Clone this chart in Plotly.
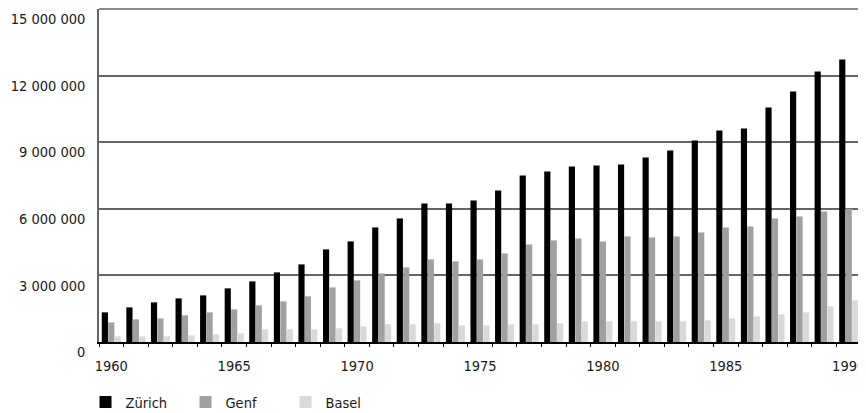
import plotly.graph_objects as go

years = list(range(1960, 1991))
zuerich = [1.335, 1.56, 1.785, 1.965, 2.1, 2.415, 2.73, 3.135, 3.495, 4.17,
           4.53, 5.16, 5.565, 6.24, 6.24, 6.375, 6.825, 7.5, 7.68, 7.905,
           7.95, 7.995, 8.31, 8.625, 9.075, 9.525, 9.615, 10.56, 11.28, 12.18, 12.72]
genf = [0.885, 1.02, 1.065, 1.2, 1.335, 1.47, 1.65, 1.83, 2.055, 2.46,
        2.775, 3.09, 3.36, 3.72, 3.63, 3.72, 3.99, 4.395, 4.575, 4.665,
        4.53, 4.755, 4.71, 4.755, 4.935, 5.16, 5.205, 5.565, 5.655, 5.88, 6.0]
basel = [0.255, 0.255, 0.255, 0.3, 0.345, 0.39, 0.57, 0.57, 0.57, 0.615,
         0.705, 0.795, 0.795, 0.84, 0.75, 0.75, 0.795, 0.795, 0.84, 0.93,
         0.93, 0.93, 0.93, 0.93, 0.975, 1.065, 1.155, 1.245, 1.335, 1.605, 1.875]

y_ticks = [0, 3000000, 6000000, 9000000, 12000000, 15000000]
y_ticktext = ["0", "3 000 000", "6 000 000", "9 000 000", "12 000 000", "15 000 000"]
x_ticks = [1960, 1965, 1970, 1975, 1980, 1985, 1990]

series = [("Zürich", zuerich, "#000000"),
          ("Genf", genf, "#a0a0a0"),
          ("Basel", basel, "#d9d9db")]

fig = go.Figure()
for name, vals, col in series:
    fig.add_trace(go.Bar(x=years, y=[v * 1e6 for v in vals], name=name,
                         marker=dict(color=col, line=dict(width=0))))

font = "DejaVu Sans Condensed"
# page body has an 8px margin, so the figure is offset by (8, 8)
fig.update_layout(
    width=866, height=413,
    margin=dict(l=91, r=13, t=1, b=79, autoexpand=False),
    paper_bgcolor="white", plot_bgcolor="white",
    barmode="group", bargap=0.215, bargroupgap=0.04,
    font=dict(family=font, size=14.5, color="#1a1a1a"),
    showlegend=True,
    legend=dict(orientation="h", x=-0.0177, xanchor="left", y=-0.132, yanchor="top",
                font=dict(family=font, size=14.5, color="#1a1a1a"),
                entrywidth=55, entrywidthmode="pixels", traceorder="normal"),
    xaxis=dict(range=[1959.5, 1990.5], tickmode="array", tickvals=x_ticks,
               ticks="", showgrid=False, showline=True, linecolor="#000000",
               linewidth=1.5, ticklabelstandoff=10, automargin=False,
               minor=dict(tick0=1959.5, dtick=1, ticks="outside", ticklen=3,
                          tickcolor="#000000", showgrid=False)),
    yaxis=dict(range=[0, 15000000], tickmode="array", tickvals=y_ticks,
               ticktext=y_ticktext, showgrid=True, gridcolor="#666666",
               gridwidth=1.5, zeroline=False, showline=True, linecolor="#666666",
               linewidth=1.5, mirror=True, ticks="", ticklabelstandoff=9,
               ticklabelposition="outside bottom", ticklabeloverflow="allow",
               automargin=False),
    shapes=[dict(type="line", xref="paper", yref="paper", x0=0, x1=1, y0=1, y1=1,
                 line=dict(color="#666666", width=1.5))],
)

fig.write_html("out.html")
